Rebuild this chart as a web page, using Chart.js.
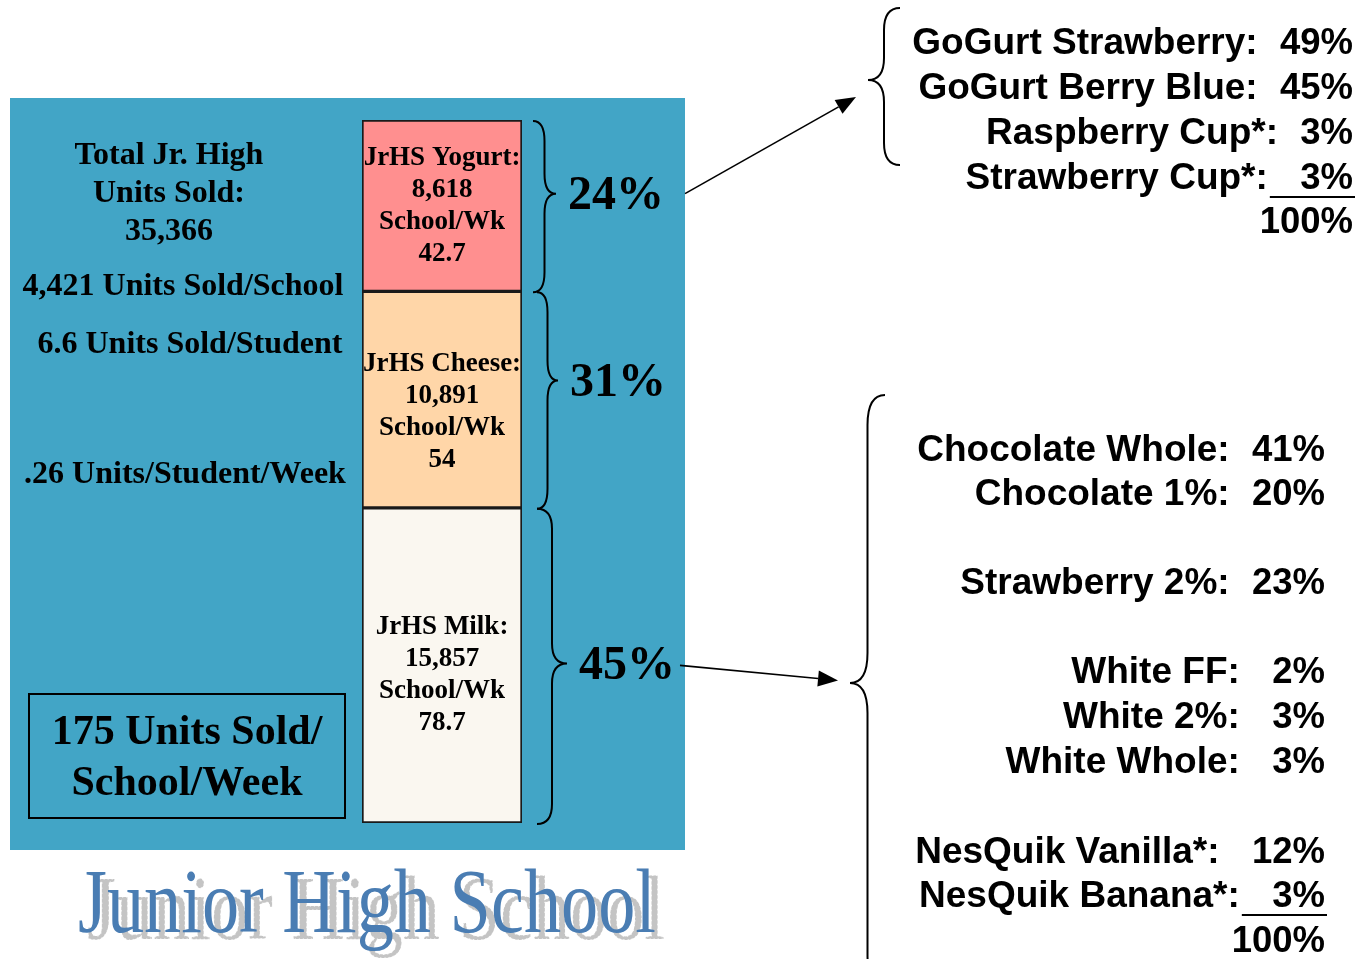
<!DOCTYPE html>
<html><head><meta charset="utf-8">
<script src="https://cdn.jsdelivr.net/npm/chart.js@4"></script>
<style>html,body{margin:0;padding:0;background:#fff;overflow:hidden}#wrap{position:relative;width:1360px;height:959px}</style>
</head><body><div id="wrap"><canvas id="c"></canvas></div>
<script>
// ---- data ----
const categories = ['JrHS Milk:', 'JrHS Cheese:', 'JrHS Yogurt:'];
const unitsSold = [15857, 10891, 8618];
const perSchoolWeek = ['78.7', '54', '42.7'];
const totalUnits = 35366;
const summaryLines = ['Total Jr. High', 'Units Sold:', '35,366'];
const statLines = ['4,421 Units Sold/School', '6.6 Units Sold/Student', '.26 Units/Student/Week'];
const boxLines = ['175 Units Sold/', 'School/Week'];
const yogurtFlavors = ['GoGurt Strawberry', 'GoGurt Berry Blue', 'Raspberry Cup*', 'Strawberry Cup*'];
const yogurtShares = [49, 45, 3, 3];
const yogurtTotal = '100%';
const milkFlavors = ['Chocolate Whole', 'Chocolate 1%', 'Strawberry 2%', 'White FF', 'White 2%', 'White Whole', 'NesQuik Vanilla*', 'NesQuik Banana*'];
const milkShares = [41, 20, 23, 2, 3, 3, 12, 3];
const milkTotal = '100%';
const titleText = 'Junior High School';

const SERIF = '"Liberation Serif", "Times New Roman", serif';
const SANS = '"Liberation Sans", Arial, sans-serif';

function brace(ctx, x0, y1, y2, ym, d, r) {
  const xm = x0 + d / 2;
  ctx.beginPath();
  ctx.moveTo(x0, y1);
  ctx.quadraticCurveTo(xm, y1, xm, y1 + r);
  ctx.lineTo(xm, ym - r);
  ctx.quadraticCurveTo(xm, ym, x0 + d, ym);
  ctx.quadraticCurveTo(xm, ym, xm, ym + r);
  ctx.lineTo(xm, y2 - r);
  ctx.quadraticCurveTo(xm, y2, x0, y2);
  ctx.stroke();
}
function arrow(ctx, x1, y1, x2, y2) {
  const a = Math.atan2(y2 - y1, x2 - x1), L = 20, W = 8;
  const bx = x2 - L * Math.cos(a), by = y2 - L * Math.sin(a);
  ctx.beginPath(); ctx.moveTo(x1, y1); ctx.lineTo(bx, by); ctx.stroke();
  ctx.beginPath();
  ctx.moveTo(x2, y2);
  ctx.lineTo(bx + W * Math.sin(a), by - W * Math.cos(a));
  ctx.lineTo(bx - W * Math.sin(a), by + W * Math.cos(a));
  ctx.closePath(); ctx.fill();
}

const overlay = {
  id: 'overlay',
  beforeDatasetsDraw(chart) {
    const ctx = chart.ctx;
    ctx.save();
    ctx.fillStyle = '#42A5C6';
    ctx.fillRect(10, 98, 675, 752);
    // title
    ctx.font = '92px ' + SERIF;
    const w = ctx.measureText(titleText).width;
    const sx = 578 / w;
    ctx.textBaseline = 'alphabetic';
    ctx.textAlign = 'left';
    ctx.save(); ctx.translate(87, 939); ctx.scale(sx, 1);
    ctx.fillStyle = '#C4C4C4'; ctx.fillText(titleText, 0, 0);
    ctx.strokeStyle = 'rgba(255,255,255,0.8)'; ctx.lineWidth = 1; ctx.setLineDash([1.5, 3.5]);
    ctx.strokeText(titleText, 0, 0);
    ctx.restore();
    ctx.save(); ctx.translate(78, 932); ctx.scale(sx, 1);
    ctx.fillStyle = '#4A7DB3'; ctx.fillText(titleText, 0, 0);
    ctx.restore();
    ctx.restore();
  },
  afterDatasetsDraw(chart) {
    const ctx = chart.ctx;
    ctx.save();
    ctx.fillStyle = '#000'; ctx.strokeStyle = '#000';
    ctx.textBaseline = 'middle'; ctx.textAlign = 'center';
    // left panel
    ctx.font = 'bold 32px ' + SERIF;
    [156, 194, 232].forEach((y, i) => ctx.fillText(summaryLines[i], 169, y));
    [[183, 287], [190, 345], [185, 475]].forEach((p, i) => ctx.fillText(statLines[i], p[0], p[1]));
    ctx.lineWidth = 2;
    ctx.strokeRect(29, 694, 316, 124);
    ctx.font = 'bold 42px ' + SERIF;
    ctx.fillText(boxLines[0], 187, 733);
    ctx.fillText(boxLines[1], 187, 784);

    // bar labels, braces, percentages
    const tips = [];
    for (let i = 0; i < unitsSold.length; i++) {
      const el = chart.getDatasetMeta(i).data[0];
      const p = el.getProps(['x', 'y', 'base', 'width'], true);
      const top = Math.min(p.y, p.base), bot = Math.max(p.y, p.base);
      const cy = (top + bot) / 2;
      const offs = [10, 12, 0][i];
      ctx.font = 'bold 27px ' + SERIF;
      ctx.textAlign = 'center';
      const lines = [categories[i], unitsSold[i].toLocaleString('en-US'), 'School/Wk', perSchoolWeek[i]];
      lines.forEach((t, k) => ctx.fillText(t, p.x, cy + offs + (k - 1.5) * 32));
      const right = p.x + p.width / 2;
      const x0 = right + [15, 15, 11][i];
      const d = [30, 21, 23][i];
      const ym = cy - [2, 19, 12][i];
      ctx.lineWidth = 2;
      brace(ctx, x0, top + 1, bot + 1, ym, d, 20);
      ctx.font = 'bold 48px ' + SERIF;
      ctx.textAlign = 'left';
      const pct = Math.round(unitsSold[i] / totalUnits * 100) + '%';
      ctx.fillText(pct, x0 + d + 12, ym + 3);
      tips.push({ x: x0 + d + 12 + ctx.measureText(pct).width, y: ym });
    }
    ctx.lineWidth = 1.6;
    arrow(ctx, 680, tips[0].y + 2, 838, tips[0].y + 17);
    arrow(ctx, 685, tips[2].y, 856, 97);

    // right-side breakdowns
    ctx.textAlign = 'right';
    function group(names, shares, right, ys, gaps, total, totalY) {
      names.forEach((n, i) => {
        const pct = shares[i] + '%';
        const tail = ' '.repeat(gaps[i]) + pct;
        ctx.font = 'bold 36.5px ' + SANS;
        const tw = ctx.measureText(tail).width + 2;
        ctx.fillText(pct, right, ys[i]);
        ctx.font = 'bold 37px ' + SANS;
        ctx.fillText(n + ':', right - tw, ys[i]);
        if (i === names.length - 1) {
          ctx.lineWidth = 2;
          ctx.beginPath(); ctx.moveTo(right - tw + 2, ys[i] + 18); ctx.lineTo(right + 2, ys[i] + 18); ctx.stroke();
        }
      });
      ctx.font = 'bold 36.5px ' + SANS;
      ctx.fillText(total, right, totalY);
    }
    group(yogurtFlavors, yogurtShares, 1353, [44, 89, 134, 179], [2, 2, 2, 3], yogurtTotal, 223);
    group(milkFlavors, milkShares, 1325, [451, 495, 584, 673, 718, 763, 853, 897], [2, 2, 2, 3, 3, 3, 3, 3], milkTotal, 942);
    ctx.lineWidth = 2;
    brace(ctx, 900, 8, 165, 80, -32, 22);
    brace(ctx, 885, 395, 985, 683, -35, 30);
    ctx.restore();
  }
};

new Chart(document.getElementById('c'), {
  type: 'bar',
  data: {
    labels: ['Jr. High'],
    datasets: [
      { label: categories[0], data: [unitsSold[0]], backgroundColor: '#FAF7F0' },
      { label: categories[1], data: [unitsSold[1]], backgroundColor: '#FFD6A8' },
      { label: categories[2], data: [unitsSold[2]], backgroundColor: '#FF8F8F' }
    ].map(d => Object.assign(d, { borderColor: '#1a1a1a', borderWidth: 2, borderSkipped: false, barPercentage: 1, categoryPercentage: 1 }))
  },
  options: {
    responsive: true, maintainAspectRatio: false, animation: false,
    layout: { padding: { left: 362, right: 838, top: 120, bottom: 136 } },
    scales: {
      x: { display: false, stacked: true },
      y: { display: false, stacked: true, min: 0, max: totalUnits }
    },
    plugins: { legend: { display: false }, tooltip: { enabled: false } }
  },
  plugins: [overlay]
});
</script></body></html>
